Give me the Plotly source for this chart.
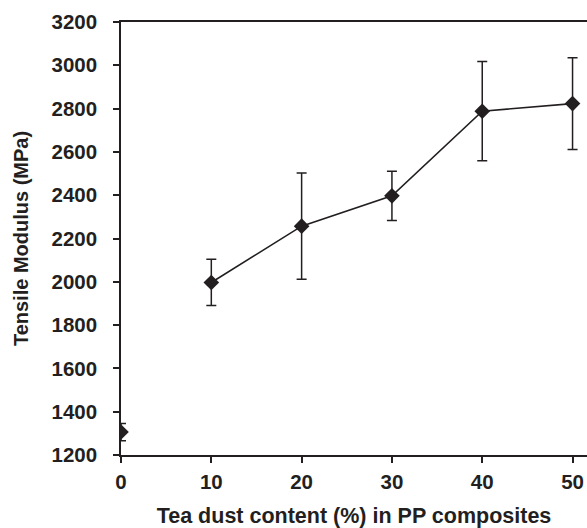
import plotly.graph_objects as go

# Tea dust loading (%) and tensile modulus (MPa) with standard deviations
tea_dust = [0, 10, 20, 30, 40, 50]
modulus = [1306, 1997, 2257, 2397, 2788, 2823]
modulus_err = [40, 107, 245, 114, 229, 212]

x_ticks = [0, 10, 20, 30, 40, 50]
y_ticks = [1200, 1400, 1600, 1800, 2000, 2200, 2400, 2600, 2800, 3000, 3200]

ink = "#231f20"
font_family = "Liberation Sans, Arial, sans-serif"

fig = go.Figure()

# neat PP reference point (not joined to the composite series)
fig.add_trace(go.Scatter(
    x=tea_dust[:1], y=modulus[:1],
    mode="markers",
    marker=dict(symbol="diamond", size=12, color=ink),
    error_y=dict(type="data", array=modulus_err[:1], color=ink, thickness=1.5, width=5),
    showlegend=False,
))

# composites joined by a line
fig.add_trace(go.Scatter(
    x=tea_dust[1:], y=modulus[1:],
    mode="lines+markers",
    line=dict(color=ink, width=1.6),
    marker=dict(symbol="diamond", size=12, color=ink),
    error_y=dict(type="data", array=modulus_err[1:], color=ink, thickness=1.5, width=5),
    showlegend=False,
))

fig.update_layout(
    width=587, height=528,
    margin=dict(l=121, r=0, t=22, b=73),
    paper_bgcolor="white",
    plot_bgcolor="white",
    font=dict(family=font_family, size=20, color=ink),
    xaxis=dict(
        range=[0, 51.6],
        tickvals=x_ticks,
        ticks="outside", ticklen=6, tickwidth=1.5, tickcolor=ink,
        showline=True, linecolor=ink, linewidth=1.5, mirror=True,
        showgrid=False, zeroline=False,
        tickfont=dict(family=font_family, size=20.5, color=ink, weight="bold"),
        ticklabelstandoff=2,
        title=dict(text="Tea dust content (%) in PP composites",
                   font=dict(family=font_family, size=21.5, color=ink, weight="bold"),
                   standoff=16),
    ),
    yaxis=dict(
        range=[1200, 3200],
        tickvals=y_ticks,
        ticks="outside", ticklen=6, tickwidth=1.5, tickcolor=ink,
        showline=True, linecolor=ink, linewidth=1.5,
        showgrid=False, zeroline=False,
        tickfont=dict(family=font_family, size=20.5, color=ink, weight="bold"),
        ticklabelstandoff=12,
        title=dict(text="Tensile Modulus (MPa)",
                   font=dict(family=font_family, size=20, color=ink, weight="bold"),
                   standoff=18),
    ),
)

fig.write_html("out.html")
